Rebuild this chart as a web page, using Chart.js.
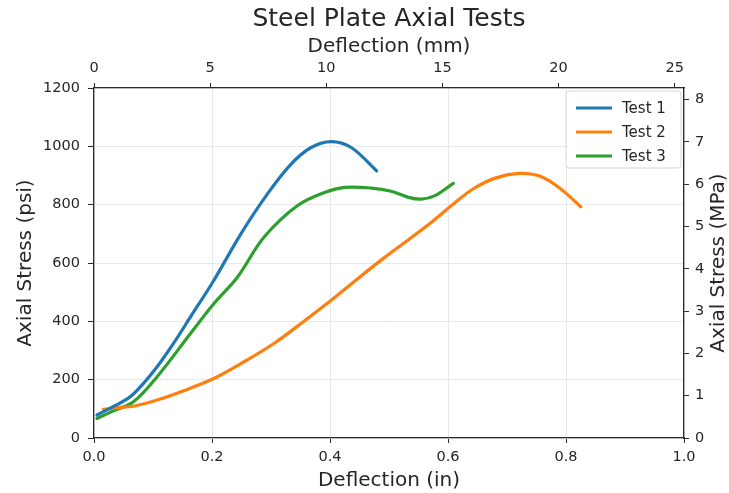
<!DOCTYPE html>
<html>
<head>
<meta charset="utf-8">
<script src="https://cdn.jsdelivr.net/npm/chart.js@4.4.1/dist/chart.umd.min.js"></script>
<style>
  html, body { margin: 0; padding: 0; background: #fff; }
  #wrap { width: 729px; height: 493px; }
</style>
</head>
<body>
<div id="wrap"><canvas id="axialChart" width="729" height="493"></canvas></div>
<script>
// Test data (deflection in inches, stress in psi)
const test1X = [0.005, 0.03, 0.061, 0.085, 0.107, 0.135, 0.1635, 0.203, 0.249, 0.294, 0.334, 0.368, 0.402, 0.436, 0.479];
const test1Y = [79, 105, 141, 190, 244, 325, 415, 540, 700, 837, 939, 996, 1016, 996, 916];

const test2X = [0.016, 0.04, 0.067, 0.107, 0.152, 0.203, 0.249, 0.305, 0.357, 0.402, 0.448, 0.49, 0.533, 0.572, 0.606, 0.641, 0.68, 0.72, 0.754, 0.788, 0.825];
const test2Y = [98, 104, 109, 130, 162, 204, 255, 324, 402, 472, 548, 615, 680, 740, 797, 852, 891, 907, 899, 859, 793];

const test3X = [0.005, 0.035, 0.067, 0.107, 0.1635, 0.203, 0.243, 0.288, 0.345, 0.391, 0.425, 0.47, 0.504, 0.533, 0.555, 0.578, 0.609];
const test3Y = [67, 95, 124, 210, 358, 460, 551, 688, 797, 842, 859, 857, 846, 825, 819, 831, 873];

// Tick labels for the four axes
const inTicks = [0, 0.2, 0.4, 0.6, 0.8, 1.0];
const mmTicks = [0, 5, 10, 15, 20, 25];
const psiTicks = [0, 200, 400, 600, 800, 1000, 1200];
const mpaTicks = [0, 1, 2, 3, 4, 5, 6, 7, 8];

const IN_MAX = 1.0;
const PSI_MAX = 1200;
const MM_PER_IN = 25.4;
const MPA_PER_PSI = 0.00689476;

const FONT = "'DejaVu Sans', sans-serif";
const TEXT = "#262626";
const AXIS = "#2b2b2b";
const GRID = "#e8e8e8";

const toPoints = (xs, ys) => xs.map((x, i) => ({ x, y: ys[i] }));
const fixedTicks = list => scale => { scale.ticks = list.map(v => ({ value: v })); };

// matplotlib-style legend box in the upper right of the plot
const legendBox = {
  id: "legendBox",
  afterDatasetsDraw(chart) {
    const { ctx, chartArea } = chart;
    const x0 = chartArea.right - 118, y0 = chartArea.top + 3;
    ctx.save();
    ctx.fillStyle = "rgba(255,255,255,0.85)";
    ctx.strokeStyle = "#d6d6d6";
    ctx.lineWidth = 1;
    ctx.beginPath();
    ctx.roundRect(x0, y0, 115, 77, 3);
    ctx.fill();
    ctx.stroke();
    ctx.font = "15px " + FONT;
    ctx.textBaseline = "middle";
    chart.data.datasets.forEach((ds, i) => {
      const y = y0 + 17 + i * 24;
      ctx.strokeStyle = ds.borderColor;
      ctx.lineWidth = 3.2;
      ctx.beginPath();
      ctx.moveTo(x0 + 10, y);
      ctx.lineTo(x0 + 46, y);
      ctx.stroke();
      ctx.fillStyle = TEXT;
      ctx.fillText(ds.label, x0 + 56, y + 1);
    });
    ctx.restore();
  }
};

// right axis title reads bottom-to-top like the left one
const rightTitle = {
  id: "rightTitle",
  afterDraw(chart) {
    const { ctx, chartArea } = chart;
    ctx.save();
    ctx.translate(719, (chartArea.top + chartArea.bottom) / 2);
    ctx.rotate(-Math.PI / 2);
    ctx.font = "20px " + FONT;
    ctx.fillStyle = TEXT;
    ctx.textAlign = "center";
    ctx.textBaseline = "middle";
    ctx.fillText("Axial Stress (MPa)", 0, 0);
    ctx.restore();
  }
};

const tickFont = { family: FONT, size: 14.5 };
const titleFont = { family: FONT, size: 20 };

new Chart(document.getElementById("axialChart"), {
  type: "line",
  data: {
    datasets: [
      { label: "Test 1", data: toPoints(test1X, test1Y), borderColor: "#1f77b4" },
      { label: "Test 2", data: toPoints(test2X, test2Y), borderColor: "#ff7f0e" },
      { label: "Test 3", data: toPoints(test3X, test3Y), borderColor: "#2ca02c" }
    ]
  },
  options: {
    responsive: false,
    animation: false,
    layout: { padding: 0 },
    elements: {
      line: { borderWidth: 3.2, tension: 0.35, fill: false, borderCapStyle: "round" },
      point: { radius: 0, hoverRadius: 0 }
    },
    plugins: {
      legend: { display: false },
      tooltip: { enabled: false },
      title: {
        display: true,
        text: "Steel Plate Axial Tests",
        fullSize: false,
        color: TEXT,
        font: { family: FONT, size: 25, weight: "normal" },
        padding: { top: 4, bottom: 0 }
      }
    },
    scales: {
      x: {
        type: "linear",
        position: "bottom",
        min: 0,
        max: IN_MAX,
        afterBuildTicks: fixedTicks(inTicks),
        afterFit: s => { s.height = 55; },
        ticks: { color: TEXT, font: tickFont, padding: 6, maxRotation: 0, callback: v => v.toFixed(1) },
        grid: { color: GRID, tickColor: AXIS, tickLength: 5 },
        border: { color: AXIS, width: 1.3 },
        title: { display: true, text: "Deflection (in)", color: TEXT, font: titleFont, padding: { top: 0, bottom: 0 } }
      },
      x2: {
        type: "linear",
        position: "top",
        min: 0,
        max: IN_MAX * MM_PER_IN,
        afterBuildTicks: fixedTicks(mmTicks),
        afterFit: s => { s.height = 54; },
        ticks: { color: TEXT, font: tickFont, padding: 6, maxRotation: 0, callback: v => String(v) },
        grid: { drawOnChartArea: false, color: AXIS, tickColor: AXIS, tickLength: 5 },
        border: { color: AXIS, width: 1.3 },
        title: { display: true, text: "Deflection (mm)", color: TEXT, font: titleFont, padding: { top: 1, bottom: 0 } }
      },
      y: {
        type: "linear",
        position: "left",
        min: 0,
        max: PSI_MAX,
        afterBuildTicks: fixedTicks(psiTicks),
        afterFit: s => { s.width = 94; },
        ticks: { color: TEXT, font: tickFont, padding: 8, callback: v => String(v) },
        grid: { color: GRID, tickColor: AXIS, tickLength: 6 },
        border: { color: AXIS, width: 1.3 },
        title: { display: true, text: "Axial Stress (psi)", color: TEXT, font: titleFont, padding: { top: 14, bottom: 0 } }
      },
      y2: {
        type: "linear",
        position: "right",
        min: 0,
        max: PSI_MAX * MPA_PER_PSI,
        afterBuildTicks: fixedTicks(mpaTicks),
        afterFit: s => { s.width = 45; },
        ticks: { color: TEXT, font: tickFont, padding: 6, callback: v => String(v) },
        grid: { drawOnChartArea: false, color: AXIS, tickColor: AXIS, tickLength: 5 },
        border: { color: AXIS, width: 1.3 },
        title: { display: false }
      }
    }
  },
  plugins: [legendBox, rightTitle]
});
</script>
</body>
</html>
